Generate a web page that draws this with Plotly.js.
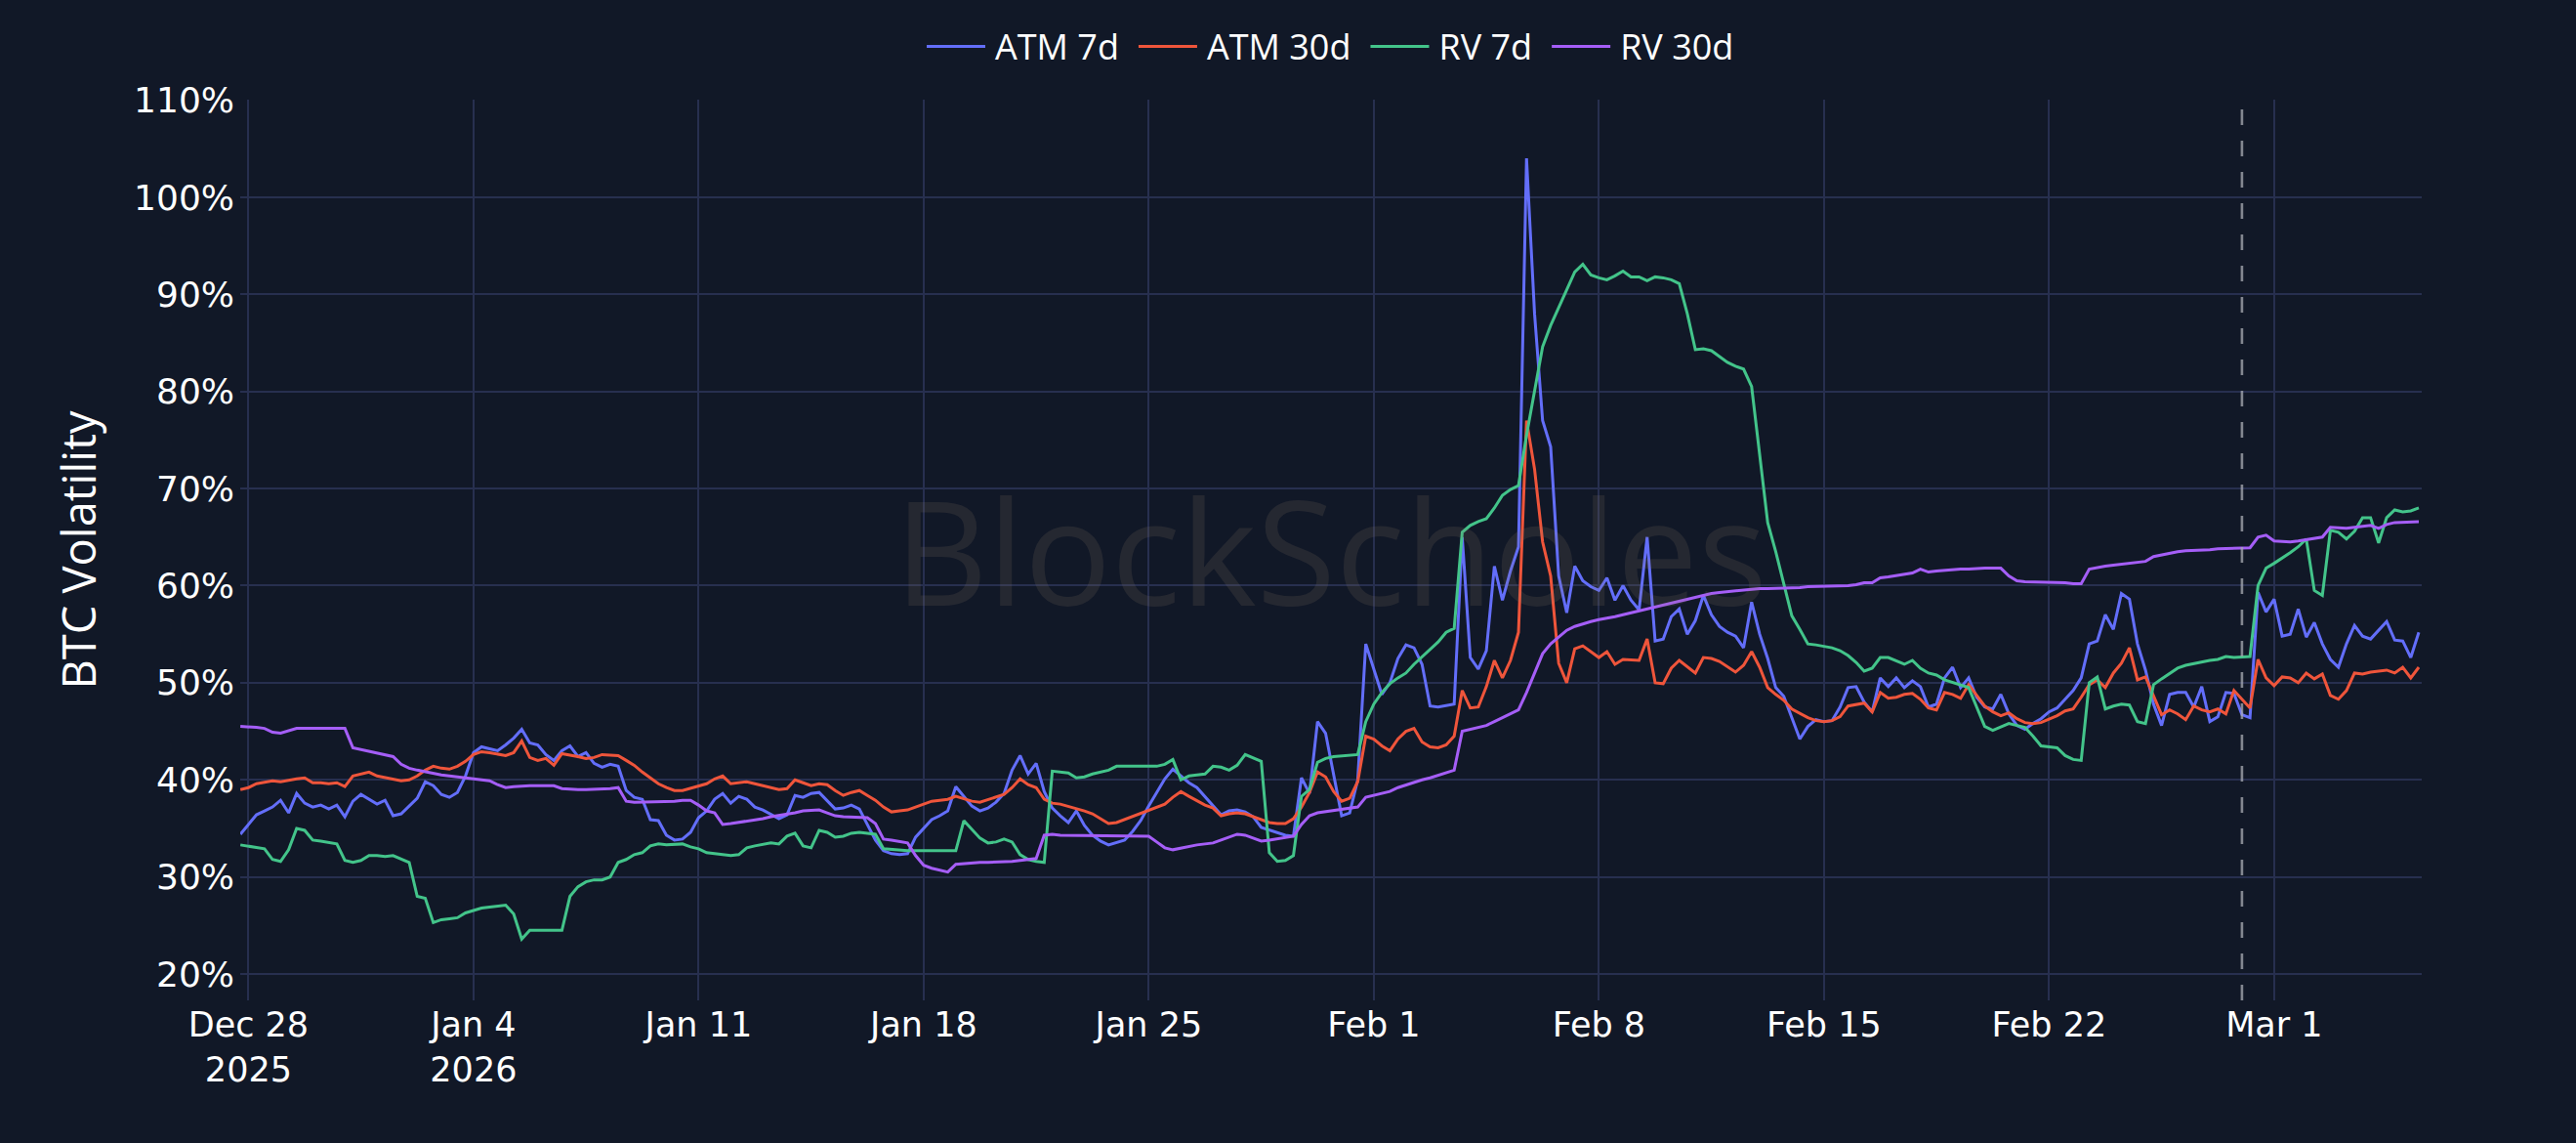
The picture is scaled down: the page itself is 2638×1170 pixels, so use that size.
<!DOCTYPE html>
<html>
<head>
<meta charset="utf-8">
<script src="https://cdn.plot.ly/plotly-3.0.1.min.js"></script>
<style>
html,body{margin:0;padding:0;background:#111827;overflow:hidden;width:2638px;height:1170px}
#wrap{width:1319px;height:585px;transform:scale(2);transform-origin:0 0}
#chart{width:1319px;height:585px}
</style>
</head>
<body>
<div id="wrap"><div id="chart"></div></div>
<script>
// Sampling: every 6 hours starting 2025-12-27 18:00 (UTC)
const START_UTC = Date.UTC(2025, 11, 27, 18, 0, 0);
const STEP_HOURS = 6;

const seriesNames = ['ATM 7d', 'ATM 30d', 'RV 7d', 'RV 30d'];
const seriesColors = ['#636efa', '#ef553b', '#43c48a', '#a55ef7'];

// values in %, one row per day (00h, 06h, 12h, 18h)
const atm7d = [34.4,
35.3,36.4,36.8,37.2, 37.9,36.6,38.6,37.6, 37.2,37.4,37.0,37.4, 36.2,37.8,38.5,38.0,
37.5,37.9,36.3,36.5, 37.3,38.1,39.8,39.4, 38.5,38.2,38.7,40.4, 42.8,43.4,43.2,43.0,
43.6,44.3,45.2,43.8, 43.6,42.6,42.0,43.0, 43.5,42.4,42.8,41.7, 41.3,41.6,41.4,38.9,
38.2,38.0,35.9,35.8, 34.3,33.8,33.9,34.6, 36.1,36.8,38.0,38.6, 37.6,38.3,38.0,37.2,
36.9,36.4,36.0,36.4, 38.4,38.2,38.6,38.7, 37.8,37.0,37.1,37.4, 37.0,35.4,33.8,32.7,
32.4,32.3,32.4,34.1, 35.0,35.9,36.3,36.8, 39.3,38.2,37.3,36.8, 37.1,37.7,38.6,41.0,
42.5,40.6,41.7,38.8, 37.1,36.3,35.6,36.8, 35.3,34.3,33.7,33.3, 33.5,33.8,34.7,35.8,
37.3,38.8,40.1,41.1, 40.4,39.7,39.2,38.2, 37.2,36.4,36.8,36.9, 36.7,36.2,35.1,34.8,
34.5,34.3,34.2,40.2, 38.6,46.0,44.8,40.5, 36.3,36.6,40.0,54.0, 51.6,48.8,50.0,52.5,
53.9,53.6,51.9,47.6, 47.5,47.6,47.8,65.0, 52.6,51.4,53.3,62.0, 58.5,61.5,64.0,104.0,
88.0,77.0,74.3,61.0, 57.2,62.0,60.5,59.9, 59.5,60.8,58.5,60.0, 58.5,57.5,65.0,54.3,
54.5,56.8,57.6,55.0, 56.4,59.0,57.0,55.8, 55.2,54.8,53.6,58.3, 55.0,52.5,49.5,48.6,
46.5,44.2,45.5,46.2, 46.0,46.1,47.5,49.5, 49.6,48.0,47.0,50.5, 49.6,50.5,49.5,50.2,
49.6,47.5,47.8,50.5, 51.6,49.5,50.5,48.5, 47.5,47.3,48.8,46.8, 45.6,45.2,45.8,46.3,
47.0,47.4,48.3,49.2, 50.5,54.0,54.3,57.0, 55.5,59.2,58.6,54.0, 51.3,47.8,45.6,48.8,
49.0,49.0,47.5,49.6, 46.0,46.5,49.0,48.9, 46.7,46.4,59.3,57.3, 58.6,54.8,55.0,57.6,
54.7,56.2,54.0,52.4, 51.6,54.0,55.9,54.8, 54.5,55.4,56.3,54.4, 54.3,52.6,55.2];

const atm30d = [39.0,
39.2,39.6,39.7,39.9, 39.8,40.0,40.1,40.2, 39.7,39.7,39.6,39.7, 39.3,40.4,40.6,40.8,
40.4,40.2,40.0,39.9, 40.0,40.4,41.0,41.4, 41.2,41.1,41.4,41.9, 42.6,42.9,42.8,42.7,
42.5,42.8,44.0,42.3, 42.0,42.2,41.5,42.7, 42.6,42.4,42.2,42.3, 42.6,42.6,42.5,42.0,
41.5,40.8,40.2,39.6, 39.2,38.9,38.9,39.1, 39.3,39.6,40.1,40.4, 39.6,39.7,39.8,39.6,
39.4,39.1,39.0,39.1, 40.0,39.7,39.4,39.6, 39.5,38.9,38.4,38.7, 38.9,38.4,37.9,37.2,
36.7,36.8,36.9,37.2, 37.5,37.8,37.9,38.0, 38.3,38.0,37.8,37.7, 38.0,38.2,38.5,39.2,
40.1,39.5,39.2,38.0, 37.6,37.5,37.3,37.1, 36.8,36.5,36.0,35.5, 35.6,35.9,36.2,36.6,
36.9,37.2,37.5,38.2, 38.8,38.3,37.8,37.4, 37.1,36.3,36.5,36.6, 36.5,36.2,36.0,35.6,
35.5,35.5,36.0,37.2, 38.7,40.8,40.3,38.8, 37.8,38.1,39.8,44.5, 44.2,43.5,43.0,44.2,
45.0,45.3,43.9,43.4, 43.3,43.6,44.5,49.2, 47.4,47.5,49.6,52.3, 50.5,52.3,55.2,77.0,
72.0,64.5,61.0,52.0, 50.0,53.5,53.8,53.2, 52.6,53.2,51.9,52.4, 52.3,52.3,54.5,50.0,
49.9,51.5,52.3,51.6, 51.0,52.6,52.5,52.2, 51.7,51.1,51.8,53.2, 51.6,49.5,48.8,48.2,
47.3,46.8,46.4,46.1, 46.0,46.1,46.5,47.6, 47.8,47.9,47.0,49.0, 48.4,48.5,48.8,48.9,
48.3,47.4,47.2,49.0, 48.8,48.4,49.8,48.8, 47.6,47.0,46.6,46.9, 46.3,45.9,45.8,45.9,
46.2,46.6,47.1,47.3, 48.5,49.8,50.3,49.5, 51.0,52.0,53.6,50.3, 50.6,48.8,46.7,47.2,
46.8,46.2,47.6,47.2, 47.0,47.3,46.8,49.2, 48.4,47.4,52.4,50.5, 49.7,50.6,50.5,50.0,
51.0,50.4,50.9,48.7, 48.3,49.2,51.0,50.9, 51.1,51.2,51.3,51.0, 51.6,50.5,51.6];

const rv7d = [33.3,
33.2,33.1,32.9,31.8, 31.6,32.8,35.0,34.8, 33.8,33.7,33.6,33.4, 31.7,31.5,31.7,32.2,
32.2,32.1,32.2,31.9, 31.5,28.0,27.8,25.3, 25.6,25.7,25.8,26.3, 26.6,26.8,26.9,27.0,
27.1,26.2,23.6,24.5, 24.5,24.5,24.6,24.5, 28.0,29.0,29.5,29.7, 29.7,30.0,31.5,31.8,
32.3,32.5,33.2,33.4, 33.3,33.3,33.4,33.1, 32.9,32.5,32.4,32.4, 32.2,32.3,33.0,33.2,
33.3,33.5,33.4,34.2, 34.5,33.2,33.0,34.8, 34.6,34.1,34.2,34.5, 34.6,34.5,34.4,32.9,
32.8,32.7,32.7,32.7, 32.7,32.7,32.7,32.7, 32.7,35.8,34.8,34.0, 33.5,33.6,33.9,33.6,
32.3,31.8,31.6,31.5, 40.9,40.8,40.7,40.2, 40.3,40.6,40.8,41.0, 41.4,41.4,41.4,41.4,
41.4,41.4,41.6,42.1, 40.0,40.4,40.5,40.6, 41.4,41.3,41.0,41.5, 42.6,42.2,41.9,32.5,
31.6,31.7,32.2,38.3, 39.0,41.8,42.2,42.4, 42.5,42.5,42.6,46.0, 47.8,49.0,49.9,50.5,
51.0,51.9,52.7,53.3, 54.2,55.2,55.6,65.5, 66.2,66.6,66.9,68.0, 69.3,69.9,70.3,75.5,
80.0,84.6,86.8,88.6, 90.7,92.3,93.1,92.0, 91.7,91.5,91.9,92.4, 91.8,91.8,91.4,91.8,
91.7,91.5,91.1,88.0, 84.3,84.4,84.2,83.6, 83.0,82.6,82.3,80.5, 74.0,66.5,63.5,60.0,
56.9,55.5,54.0,53.9, 53.8,53.6,53.3,52.8, 52.1,51.2,51.5,52.6, 52.6,52.3,51.9,52.3,
51.5,51.0,50.8,50.3, 50.0,49.7,49.5,47.5, 45.5,45.1,45.5,45.8, 45.6,45.4,44.5,43.5,
43.4,43.3,42.5,42.1, 42.0,50.0,50.6,47.3, 47.6,47.8,47.7,46.0, 45.8,49.8,50.4,51.0,
51.5,51.8,52.0,52.1, 52.3,52.4,52.7,52.6, 52.6,52.7,60.0,61.8, 62.3,62.8,63.4,64.0,
64.8,59.5,59.0,65.7, 65.5,64.8,65.6,67.0, 67.0,64.4,67.0,67.8, 67.6,67.7,68.0];

const rv30d = [45.5,
45.5,45.4,45.3,44.9, 44.8,45.0,45.3,45.3, 45.3,45.3,45.3,45.3, 45.3,43.3,43.1,42.9,
42.8,42.6,42.4,41.6, 41.2,41.0,40.8,40.6, 40.5,40.4,40.3,40.2, 40.1,40.0,39.9,39.5,
39.2,39.3,39.4,39.4, 39.4,39.4,39.4,39.1, 39.0,39.0,39.0,39.0, 39.0,39.1,39.2,37.8,
37.7,37.7,37.7,37.7, 37.8,37.8,37.9,37.9, 37.4,36.8,36.6,35.4, 35.5,35.6,35.8,35.9,
36.0,36.2,36.3,36.5, 36.6,36.8,36.9,36.9, 36.6,36.3,36.2,36.2, 36.2,36.1,35.5,33.9,
33.8,33.7,33.5,32.2, 31.2,30.9,30.7,30.5, 31.3,31.4,31.4,31.5, 31.5,31.5,31.6,31.6,
31.7,31.8,31.9,34.3, 34.4,34.3,34.3,34.2, 34.2,34.2,34.2,34.2, 34.2,34.2,34.2,34.2,
34.2,33.6,33.0,32.8, 33.0,33.2,33.3,33.4, 33.5,33.8,34.1,34.4, 34.3,34.0,33.7,33.8,
33.9,34.0,34.2,35.4, 36.3,36.6,36.7,36.9, 37.0,37.1,37.2,38.2, 38.4,38.6,38.8,39.2,
39.5,39.8,40.0,40.2, 40.5,40.8,41.0,45.0, 45.2,45.4,45.6,46.0, 46.4,46.8,47.2,49.0,
51.2,53.0,54.0,54.8, 55.4,55.8,56.1,56.3, 56.5,56.6,56.8,57.0, 57.2,57.4,57.6,57.8,
58.0,58.2,58.5,58.7, 58.8,59.0,59.2,59.3, 59.4,59.5,59.5,59.7, 59.7,59.7,59.7,59.7,
59.8,59.8,59.9,59.9, 59.9,59.9,59.9,60.0, 60.1,60.3,60.3,60.8, 60.9,61.0,61.1,61.3,
61.7,61.4,61.5,61.6, 61.7,61.7,61.7,61.8, 61.8,61.8,61.8,61.0, 60.5,60.4,60.4,60.3,
60.3,60.3,60.3,60.2, 60.2,61.7,61.9,62.0, 62.1,62.2,62.3,62.4, 62.5,63.0,63.2,63.4,
63.5,63.6,63.6,63.7, 63.7,63.8,63.8,63.9, 63.9,63.9,65.0,65.2, 64.6,64.5,64.5,64.6,
64.7,64.9,65.0,66.0, 65.9,65.9,66.0,66.1, 66.2,65.9,66.3,66.5, 66.5,66.5,66.6];

const seriesValues = [atm7d, atm30d, rv7d, rv30d];

// marker date for the dashed vertical line
const markerDate = '2026-02-28 00:00';
const xTickStart = '2025-12-28';
const xRange = ['2025-12-27 17:53', '2026-03-05 14:10'];
const yRange = [17.29, 110.05];

function timeAxis(n) {
  const out = [];
  for (let i = 0; i < n; i++) {
    const t = new Date(START_UTC + i * STEP_HOURS * 3600000);
    out.push(t.toISOString().slice(0, 16).replace('T', ' '));
  }
  return out;
}

const traces = seriesValues.map((vals, i) => ({
  type: 'scatter',
  mode: 'lines',
  name: seriesNames[i],
  x: timeAxis(vals.length),
  y: vals,
  line: {color: seriesColors[i], width: 1.5}
}));

const FONT = '"Open Sans", verdana, arial, sans-serif';
const TICK_FONT = '"DejaVu Sans", Verdana, sans-serif';
const layout = {
  width: 1319,
  height: 585,
  paper_bgcolor: '#111827',
  plot_bgcolor: '#111827',
  font: {family: FONT, color: '#ffffff', size: 18},
  margin: {l: 123, r: 79, t: 51, b: 73, pad: 0},
  showlegend: true,
  legend: {
    orientation: 'h', xref: 'paper', x: 0.5, xanchor: 'center',
    yref: 'container', y: 1 - 24 / 585, yanchor: 'middle',
    font: {family: FONT, size: 18, color: '#ffffff'}, bgcolor: 'rgba(0,0,0,0)'
  },
  xaxis: {
    type: 'date',
    range: xRange,
    tick0: xTickStart,
    dtick: 7 * 86400000,
    showgrid: true,
    gridcolor: '#272f4f',
    gridwidth: 1,
    zeroline: false,
    showline: false,
    ticks: '',
    tickfont: {family: TICK_FONT, size: 17.5, color: '#ffffff'}
  },
  yaxis: {
    range: yRange,
    dtick: 10,
    tick0: 0,
    ticksuffix: '%',
    showgrid: true,
    gridcolor: '#272f4f',
    gridwidth: 1,
    zeroline: false,
    showline: false,
    ticks: '',
    ticklabelstandoff: 2,
    tickfont: {family: TICK_FONT, size: 18, color: '#ffffff'},
    title: {text: 'BTC Volatility', standoff: 12, font: {family: FONT, size: 23.5, color: '#ffffff'}}
  },
  shapes: [{
    type: 'line', xref: 'x', yref: 'paper',
    x0: markerDate, x1: markerDate, y0: 0, y1: 1,
    line: {color: 'rgba(170,172,180,0.75)', width: 1.3, dash: '8px,8px'}
  }],
  annotations: [{
    text: 'BlockScholes', xref: 'paper', yref: 'paper', x: 0.5, y: 0.5,
    xanchor: 'center', yanchor: 'middle', showarrow: false,
    font: {family: FONT, size: 74, color: 'rgba(140,125,105,0.16)'}
  }]
};

Plotly.newPlot('chart', traces, layout, {staticPlot: true, displayModeBar: false});
</script>
</body>
</html>
